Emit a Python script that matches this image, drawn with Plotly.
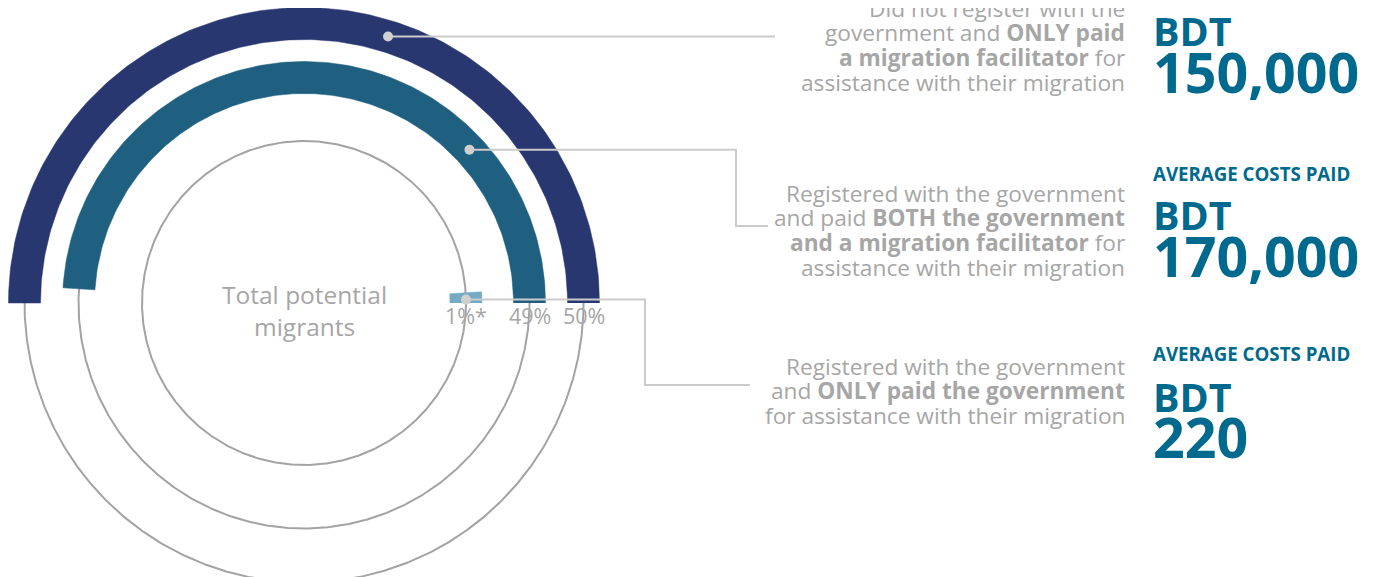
import numpy as np
import plotly.graph_objects as go

# ---------------- data ----------------
groups = ["Did not register, ONLY paid a facilitator",
          "Registered, paid BOTH government and facilitator",
          "Registered, ONLY paid the government"]
shares = [50, 49, 1]                      # % of total potential migrants
share_labels = ["50%", "49%", "1%*"]
cost_values = ["150,000", "170,000", "220"]
desc_lines = [
    ["Did not register with the",
     "government and <b>ONLY paid</b>",
     "<b>a migration facilitator</b> for",
     "assistance with their migration"],
    ["Registered with the government",
     "and paid <b>BOTH the government</b>",
     "<b>and a migration facilitator</b> for",
     "assistance with their migration"],
    ["Registered with the government",
     "and <b>ONLY paid the government</b>",
     "for assistance with their migration"],
]
center_label = ["Total potential", "migrants"]

# ---------------- layout / style ----------------
W, H = 1375, 577           # page size
OFF = 8                    # page body margin: figure starts at (8, 8)
CX, CY = 304, 303          # page pixel position of the ring centre
def px(x): return x - CX
def py(y): return CY - y

ring_base = [263.5, 209.5, 146]
ring_thick = 32
ring_colors = ["#283770", "#1f6080", "#74aac3"]
GRAY_TXT = "#a6a6a6"
BLUE = "#006a8e"
LINE = "#cbcbcb"
FONT = "Open Sans"

fig = go.Figure()

# gray guide circles at ring mid-radius
t = np.linspace(0, 2 * np.pi, 721)
for b in ring_base:
    r = b + ring_thick / 2
    fig.add_trace(go.Scatter(x=r * np.cos(t), y=r * np.sin(t), mode="lines",
                             line=dict(color="#a3a3a3", width=2),
                             hoverinfo="skip", showlegend=False))

# ring arcs (share -> angle, 100% = 360 deg, counter-clockwise from 3 o'clock)
for s, b, c, g in zip(shares, ring_base, ring_colors, groups):
    span = np.deg2rad(s / 100 * 360)
    a = np.linspace(0, span, 200)
    ro, ri = b + ring_thick, b
    xs = np.concatenate([ro * np.cos(a), ri * np.cos(a[::-1])])
    ys = np.concatenate([ro * np.sin(a), ri * np.sin(a[::-1])])
    fig.add_trace(go.Scatter(x=xs, y=ys, mode="lines", fill="toself",
                             fillcolor=c, line=dict(color=c, width=0.5),
                             name=g, hoverinfo="name", showlegend=False))

# share labels under the ring starts
for lab, b in zip(share_labels, ring_base):
    fig.add_annotation(x=b + ring_thick / 2, y=py(315), text=lab, showarrow=False,
                       xanchor="center", yanchor="middle",
                       font=dict(family=FONT, size=21.5, color=GRAY_TXT))

# centre label
for i, txt in enumerate(center_label):
    fig.add_annotation(x=0, y=py(294 + 32 * i), text=txt, showarrow=False,
                       xanchor="center", yanchor="middle",
                       font=dict(family=FONT, size=24.5, color=GRAY_TXT))

# connector lines and dots
dot_angles = [72.5, 42.8, 1.2]
connectors = [
    [(None, None), (775, None)],
    [(None, None), (736, None), (736, 226), (768, 226)],
    [(None, None), (645, None), (645, 385), (750, 385)],
]
for k, (ang, b) in enumerate(zip(dot_angles, ring_base)):
    r = b + ring_thick / 2
    dx, dy = r * np.cos(np.deg2rad(ang)), r * np.sin(np.deg2rad(ang))
    xs, ys = [], []
    for (xx, yy) in connectors[k]:
        xs.append(dx if xx is None else px(xx))
        ys.append(dy if yy is None else py(yy))
    fig.add_trace(go.Scatter(x=xs, y=ys, mode="lines",
                             line=dict(color=LINE, width=2),
                             hoverinfo="skip", showlegend=False))
    fig.add_trace(go.Scatter(x=[dx], y=[dy], mode="markers",
                             marker=dict(color="#d0d0d0", size=10),
                             hoverinfo="skip", showlegend=False))

# description text blocks (right aligned)
desc_tops = [8, 193, 366]
for lines, y0 in zip(desc_lines, desc_tops):
    for i, ln in enumerate(lines):
        fig.add_annotation(x=px(1127), y=py(y0 + 24.8 * i), text=ln, showarrow=False,
                           xanchor="right", yanchor="middle",
                           font=dict(family=FONT, size=22.7, color=GRAY_TXT))

# cost blocks
head_y = [None, 173, 353]
bdt_y = [31, 215, 397]
val_y = [71, 255, 436]
for k in range(3):
    if head_y[k] is not None:
        fig.add_annotation(x=px(1151), y=py(head_y[k]), text="<b>AVERAGE COSTS PAID</b>",
                           showarrow=False, xanchor="left", yanchor="middle",
                           font=dict(family=FONT, size=18.7, color=BLUE))
    fig.add_annotation(x=px(1151), y=py(bdt_y[k]), text="<b>BDT</b>",
                       showarrow=False, xanchor="left", yanchor="middle",
                       font=dict(family=FONT, size=39.5, color=BLUE))
    fig.add_annotation(x=px(1151), y=py(val_y[k]), text="<b>" + cost_values[k] + "</b>",
                       showarrow=False, xanchor="left", yanchor="middle",
                       font=dict(family=FONT, size=55.5, color=BLUE))

fig.update_xaxes(range=[px(OFF), px(W)], visible=False, fixedrange=True)
fig.update_yaxes(range=[py(H), py(OFF)], visible=False, fixedrange=True)
fig.update_layout(width=W - OFF, height=H - OFF, margin=dict(l=0, r=0, t=0, b=0),
                  paper_bgcolor="white", plot_bgcolor="white", showlegend=False)

fig.write_html("out.html")
